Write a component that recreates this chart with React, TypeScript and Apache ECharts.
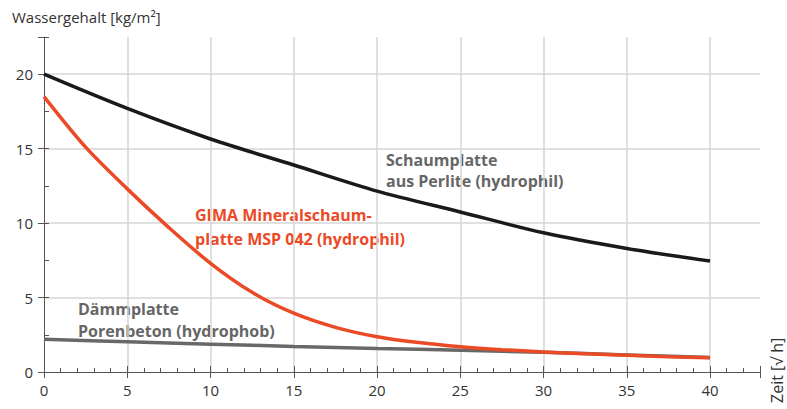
import React, { useEffect, useRef } from "react";
import * as echarts from "echarts";

const xFine = [0, 2.5, 5, 7.5, 10, 12.5, 15, 17.5, 20, 22.5, 25, 27.5, 30, 32.5, 35, 37.5, 40];
const xCoarse = [0, 5, 10, 15, 20, 25, 30, 35, 40];
const gimaValues = [18.5, 15.1, 12.3, 9.7, 7.3, 5.35, 3.95, 3.0, 2.37, 1.98, 1.7, 1.5, 1.35, 1.22, 1.12, 1.03, 0.95];
const perliteValues = [20, 17.7, 15.65, 13.9, 12.15, 10.75, 9.35, 8.3, 7.45];
const porenbetonValues = [2.2, 2.03, 1.87, 1.72, 1.58, 1.46, 1.32, 1.15, 0.97];

const perliteLabel = ["Schaumplatte", "aus Perlite (hydrophil)"];
const gimaLabel = ["GIMA Mineralschaum-", "platte MSP 042 (hydrophil)"];
const porenbetonLabel = ["Dämmplatte", "Porenbeton (hydrophob)"];
const yTitle = "Wassergehalt [kg/m²]";
const xTitle = "Zeit [√ h]";

const X_MAX = 43;
const Y_MAX = 22.5;

const AXIS_COLOR = "#555";
const TEXT_COLOR = "#333";
const GRID_COLOR = "#d6d6d6";
const FONT = "'Open Sans', 'Noto Sans', sans-serif";

export default function App() {
  const ref = useRef<HTMLDivElement>(null);
  useEffect(() => {
    document.body.style.margin = "0";
    if (!ref.current) return;
    const chart = echarts.init(ref.current, null, { renderer: "svg" });
    const pair = (xs: number[], ys: number[]) => xs.map((x, i) => [x, ys[i]]);
    const baseX = { type: "value", min: 0, max: X_MAX, position: "bottom", axisLine: { onZero: false } };
    const baseY = { type: "value", min: 0, max: Y_MAX, position: "left", axisLine: { onZero: false } };
    chart.setOption({
      animation: false,
      grid: { left: 44, right: 27, top: 37, bottom: 37, containLabel: false },
      xAxis: [
        {
          ...baseX,
          interval: 5,
          axisLine: { show: true, onZero: false, lineStyle: { color: AXIS_COLOR, width: 1 } },
          axisTick: { show: true, inside: false, length: 6, lineStyle: { color: AXIS_COLOR } },
          axisLabel: {
            color: TEXT_COLOR,
            fontSize: 15,
            fontFamily: FONT,
            margin: 10,
            formatter: (v: number) => (v % 5 === 0 ? String(v) : ""),
          },
          splitLine: { show: true, showMinLine: false, showMaxLine: false, lineStyle: { color: GRID_COLOR, width: 1.5 } },
        },
        {
          ...baseX,
          interval: 5,
          axisLine: { show: false, onZero: false },
          axisTick: { show: true, inside: true, length: 6, lineStyle: { color: AXIS_COLOR } },
          axisLabel: { show: false },
          splitLine: { show: false },
        },
        {
          ...baseX,
          interval: 1,
          axisLine: { show: false, onZero: false },
          axisTick: { show: true, inside: true, length: 4, lineStyle: { color: AXIS_COLOR } },
          axisLabel: { show: false },
          splitLine: { show: false },
        },
      ],
      yAxis: [
        {
          ...baseY,
          interval: 5,
          axisLine: { show: true, onZero: false, lineStyle: { color: AXIS_COLOR, width: 1 } },
          axisTick: { show: true, inside: false, length: 6, lineStyle: { color: AXIS_COLOR } },
          axisLabel: {
            color: TEXT_COLOR,
            fontSize: 15,
            fontFamily: FONT,
            margin: 11,
            formatter: (v: number) => (v % 5 === 0 ? String(v) : ""),
          },
          splitLine: { show: true, showMinLine: false, showMaxLine: false, lineStyle: { color: GRID_COLOR, width: 1.5 } },
        },
        {
          ...baseY,
          interval: 2.5,
          axisLine: { show: false, onZero: false },
          axisTick: { show: true, inside: true, length: 5, lineStyle: { color: AXIS_COLOR } },
          axisLabel: { show: false },
          splitLine: { show: false },
        },
      ],
      series: [
        {
          type: "line",
          name: "Porenbeton",
          data: pair(xCoarse, porenbetonValues),
          smooth: 0.3,
          showSymbol: false,
          lineStyle: { color: "#686868", width: 3.5 },
          z: 2,
        },
        {
          type: "line",
          name: "Perlite",
          data: pair(xCoarse, perliteValues),
          smooth: 0.3,
          showSymbol: false,
          lineStyle: { color: "#1a1a1a", width: 3.5 },
          z: 3,
        },
        {
          type: "line",
          name: "GIMA",
          data: pair(xFine, gimaValues),
          smooth: 0.3,
          showSymbol: false,
          lineStyle: { color: "#eb4a26", width: 3.5 },
          z: 4,
        },
      ],
      graphic: [
        {
          type: "text",
          x: 12,
          y: 9,
          style: { text: yTitle, fill: TEXT_COLOR, font: `15px ${FONT}` },
        },
        {
          type: "text",
          x: 777,
          y: 403,
          rotation: Math.PI / 2,
          style: { text: xTitle, fill: TEXT_COLOR, font: `16px ${FONT}`, textAlign: "left", textVerticalAlign: "middle" },
        },
        {
          type: "text",
          x: 386,
          y: 149,
          style: { text: perliteLabel.join("\n"), fill: "#666666", font: `bold 16px ${FONT}`, lineHeight: 21 },
        },
        {
          type: "text",
          x: 195,
          y: 203,
          style: { text: gimaLabel.join("\n"), fill: "#eb4a26", font: `bold 16px ${FONT}`, lineHeight: 24 },
        },
        {
          type: "text",
          x: 78,
          y: 298,
          style: { text: porenbetonLabel.join("\n"), fill: "#666666", font: `bold 16px ${FONT}`, lineHeight: 22 },
        },
      ],
    });
    return () => chart.dispose();
  }, []);
  return <div ref={ref} style={{ width: 787, height: 409 }} />;
}
